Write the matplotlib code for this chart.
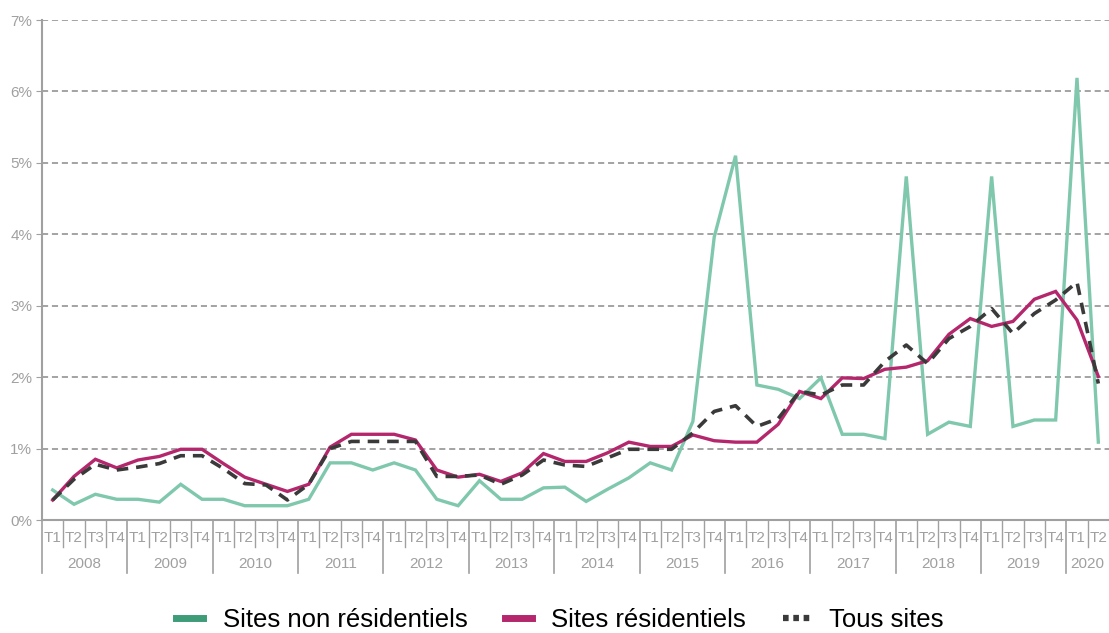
import matplotlib
matplotlib.use("Agg")
import matplotlib.pyplot as plt
from matplotlib.lines import Line2D
import matplotlib.transforms as mtransforms
from matplotlib import font_manager

years = ["2008", "2009", "2010", "2011", "2012", "2013", "2014", "2015",
         "2016", "2017", "2018", "2019", "2020"]
quarters = ["T1", "T2", "T3", "T4"]
n_quarters_last = 2

non_residentiels = [0.42, 0.22, 0.36, 0.29, 0.29, 0.25, 0.50, 0.29,
                    0.29, 0.20, 0.20, 0.20, 0.29, 0.80, 0.80, 0.70,
                    0.80, 0.70, 0.29, 0.20, 0.55, 0.29, 0.29, 0.45,
                    0.46, 0.26, 0.43, 0.59, 0.80, 0.70, 1.38, 3.96,
                    5.10, 1.89, 1.83, 1.70, 1.99, 1.20, 1.20, 1.14,
                    4.81, 1.20, 1.37, 1.31, 4.81, 1.31, 1.40, 1.40,
                    6.19, 1.09]
residentiels = [0.28, 0.61, 0.85, 0.73, 0.84, 0.89, 0.99, 0.99,
                0.79, 0.60, 0.50, 0.40, 0.50, 1.02, 1.20, 1.20,
                1.20, 1.12, 0.70, 0.60, 0.64, 0.54, 0.66, 0.93,
                0.82, 0.82, 0.94, 1.09, 1.03, 1.03, 1.19, 1.11,
                1.09, 1.09, 1.34, 1.80, 1.70, 1.99, 1.98, 2.11,
                2.14, 2.23, 2.60, 2.82, 2.71, 2.78, 3.09, 3.20,
                2.80, 2.01]
tous_sites = [0.28, 0.57, 0.78, 0.70, 0.74, 0.79, 0.90, 0.90,
              0.72, 0.51, 0.49, 0.28, 0.50, 1.00, 1.10, 1.10,
              1.10, 1.10, 0.61, 0.61, 0.63, 0.50, 0.63, 0.84,
              0.77, 0.75, 0.87, 0.99, 0.99, 0.99, 1.22, 1.52,
              1.60, 1.31, 1.42, 1.80, 1.75, 1.89, 1.89, 2.22,
              2.45, 2.19, 2.54, 2.71, 2.96, 2.61, 2.89, 3.08,
              3.33, 1.91]
y_ticks = [0, 1, 2, 3, 4, 5, 6, 7]
y_labels = ["0%", "1%", "2%", "3%", "4%", "5%", "6%", "7%"]

available = {f.name for f in font_manager.fontManager.ttflist}
FONT = "Liberation Sans Narrow" if "Liberation Sans Narrow" in available else "Liberation Sans"

W, H = 1109, 633
fig = plt.figure(figsize=(W / 100, H / 100), dpi=100)
ax = fig.add_axes([42 / W, (H - 520) / H, (W - 42) / W, 500 / H])

x = list(range(len(tous_sites)))
c_green = "#80C8AD"
c_mag = "#B5276C"
c_dark = "#3A3A3A"
c_tick = "#A0A0A0"

ax.plot(x, non_residentiels, color=c_green, lw=2.4, solid_joinstyle="miter", zorder=3)
ax.plot(x, residentiels, color=c_mag, lw=2.4, solid_joinstyle="miter", zorder=4)
ax.plot(x, tous_sites, color=c_dark, lw=2.6, dashes=(3.2, 2.2), zorder=5)

ax.set_xlim(-0.5, len(x) - 0.5)
ax.set_ylim(0, 7)
ax.set_yticks(y_ticks)
ax.set_yticklabels(y_labels, fontsize=11, color=c_tick, family=FONT)
ax.tick_params(axis="y", length=4, color=c_tick, pad=3)
ax.set_xticks([])
for yv in y_ticks[1:]:
    ax.axhline(yv, color="#8A8A8A", lw=1.1, ls=(0, (4, 2.5)), zorder=1)

for s in ["top", "right"]:
    ax.spines[s].set_visible(False)
ax.spines["left"].set_color(c_tick)
ax.spines["left"].set_linewidth(1.5)
ax.spines["bottom"].set_color(c_tick)
ax.spines["bottom"].set_linewidth(1.5)

trans = mtransforms.blended_transform_factory(ax.transData, ax.transAxes)
px = 1 / 500.0
idx = 0
for yi, yr in enumerate(years):
    nq = n_quarters_last if yi == len(years) - 1 else 4
    start = idx
    for q in quarters[:nq]:
        ax.text(idx, -18 * px, q, transform=trans, ha="center", va="center",
                fontsize=11, color=c_tick, family=FONT, clip_on=False)
        if idx > start:
            ax.plot([idx - 0.5, idx - 0.5], [0, -27 * px], transform=trans,
                    color=c_tick, lw=1.0, clip_on=False)
        idx += 1
    ax.plot([start - 0.5, start - 0.5], [0, -53 * px], transform=trans,
            color=c_tick, lw=1.2, clip_on=False)
    ax.text((start + idx - 1) / 2, -44 * px, yr, transform=trans, ha="center",
            va="center", fontsize=11, color=c_tick, family=FONT, clip_on=False)

handles = [
    Line2D([], [], color="#3E9C79", lw=5),
    Line2D([], [], color=c_mag, lw=5),
    Line2D([], [], color=c_dark, lw=4.5, dashes=(0.9, 0.75)),
]
labels = ["Sites non résidentiels", "Sites résidentiels", "Tous sites"]
fig.legend(handles, labels, loc="center", bbox_to_anchor=(560 / W, 1 - 620 / H),
           ncol=3, frameon=False, handlelength=1.05, handletextpad=0.75,
           columnspacing=1.45, prop={"family": FONT, "size": 18.5})

fig.savefig("out.png", dpi=100)
